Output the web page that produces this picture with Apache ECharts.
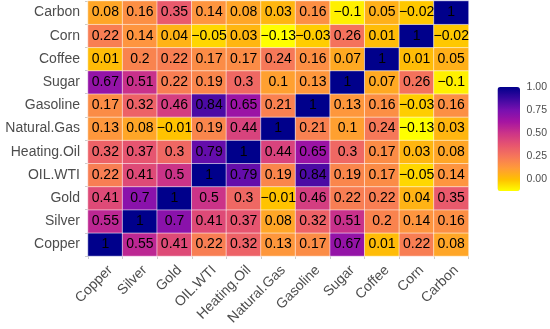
<!DOCTYPE html>
<html>
<head>
<meta charset="utf-8">
<script src="https://cdn.jsdelivr.net/npm/echarts@6/dist/echarts.min.js"></script>
<style>html,body{margin:0;padding:0;background:#fff}#c{width:550px;height:329px}</style>
</head>
<body>
<div id="c"></div>
<script>
// Categories (x: left->right, y: bottom->top)
const categories = ['Copper','Silver','Gold','OIL.WTI','Heating.Oil','Natural.Gas','Gasoline','Sugar','Coffee','Corn','Carbon'];

// Correlation rows, values listed in x-category order
const rowCopper     = [1, 0.55, 0.41, 0.22, 0.32, 0.13, 0.17, 0.67, 0.01, 0.22, 0.08];
const rowSilver     = [0.55, 1, 0.7, 0.41, 0.37, 0.08, 0.32, 0.51, 0.2, 0.14, 0.16];
const rowGold       = [0.41, 0.7, 1, 0.5, 0.3, -0.01, 0.46, 0.22, 0.22, 0.04, 0.35];
const rowOilWTI     = [0.22, 0.41, 0.5, 1, 0.79, 0.19, 0.84, 0.19, 0.17, -0.05, 0.14];
const rowHeatingOil = [0.32, 0.37, 0.3, 0.79, 1, 0.44, 0.65, 0.3, 0.17, 0.03, 0.08];
const rowNaturalGas = [0.13, 0.08, -0.01, 0.19, 0.44, 1, 0.21, 0.1, 0.24, -0.13, 0.03];
const rowGasoline   = [0.17, 0.32, 0.46, 0.84, 0.65, 0.21, 1, 0.13, 0.16, -0.03, 0.16];
const rowSugar      = [0.67, 0.51, 0.22, 0.19, 0.3, 0.1, 0.13, 1, 0.07, 0.26, -0.1];
const rowCoffee     = [0.01, 0.2, 0.22, 0.17, 0.17, 0.24, 0.16, 0.07, 1, 0.01, 0.05];
const rowCorn       = [0.22, 0.14, 0.04, -0.05, 0.03, -0.13, -0.03, 0.26, 0.01, 1, -0.02];
const rowCarbon     = [0.08, 0.16, 0.35, 0.14, 0.08, 0.03, 0.16, -0.1, 0.05, -0.02, 1];

const rows = [rowCopper, rowSilver, rowGold, rowOilWTI, rowHeatingOil, rowNaturalGas,
              rowGasoline, rowSugar, rowCoffee, rowCorn, rowCarbon];

// Legend scale
const scaleMin = -0.13;
const scaleMax = 1;
const legendTicks = [0, 0.25, 0.5, 0.75, 1];

const data = [];
rows.forEach((r, yi) => r.forEach((v, xi) => data.push([xi, yi, v])));

const FONT = '"Liberation Sans", Arial, sans-serif';
const chart = echarts.init(document.getElementById('c'));
chart.setOption({
  animation: false,
  backgroundColor: '#fff',
  grid: [
    { left: 88, top: 1, width: 380.5, height: 255 },
    { left: 497.5, top: 87, width: 22.5, height: 104 }
  ],
  xAxis: [
    {
      type: 'category', data: categories, gridIndex: 0,
      axisLine: { show: false },
      axisTick: { show: true, length: 3, lineStyle: { color: '#cccccc' } },
      axisLabel: { rotate: 45, margin: 7, fontSize: 14, color: '#4d4d4d', fontFamily: FONT,
                   verticalAlign: 'top' },
      splitLine: { show: false }
    },
    { type: 'value', gridIndex: 1, show: false, min: 0, max: 1 }
  ],
  yAxis: [
    {
      type: 'category', data: categories, gridIndex: 0,
      axisLine: { show: false },
      axisTick: { show: true, length: 3, lineStyle: { color: '#cccccc' } },
      axisLabel: { margin: 8, fontSize: 14, color: '#4d4d4d', fontFamily: FONT },
      splitLine: { show: false }
    },
    {
      type: 'value', gridIndex: 1, position: 'right', min: scaleMin, max: scaleMax,
      axisLine: { show: false }, splitLine: { show: false },
      axisTick: { show: true, inside: true, length: 4, customValues: legendTicks,
                  lineStyle: { color: 'rgba(255,255,255,0.8)', width: 1 } },
      axisLabel: { customValues: legendTicks, margin: 7, fontSize: 10.5, color: '#4d4d4d',
                   fontFamily: FONT, formatter: v => Number(v).toFixed(2) }
    },
    {
      type: 'value', gridIndex: 1, position: 'left', min: scaleMin, max: scaleMax,
      axisLine: { show: false }, splitLine: { show: false },
      axisTick: { show: true, inside: true, length: 4, customValues: legendTicks,
                  lineStyle: { color: 'rgba(255,255,255,0.8)', width: 1 } },
      axisLabel: { show: false }
    }
  ],
  visualMap: {
    type: 'continuous', min: scaleMin, max: scaleMax, calculable: false,
    orient: 'vertical', left: 497.5, top: 87, padding: 0,
    itemWidth: 22.5, itemHeight: 104, seriesIndex: 0,
    inRange: { color: ['#FFFF00', '#FFC000', '#FF9A3A', '#F6765A', '#E65470',
                       '#CC3488', '#A514A2', '#7810B0', '#3A08A0', '#00008B'] }
  },
  series: [{
    type: 'heatmap', xAxisIndex: 0, yAxisIndex: 0, data: data,
    itemStyle: { borderColor: 'rgba(255,255,255,0.55)', borderWidth: 1 },
    label: { show: true, fontSize: 14, color: '#000', fontFamily: FONT,
             formatter: p => String(p.value[2]).replace('-', '\u2212') },
    emphasis: { disabled: true }
  }]
});
</script>
</body>
</html>
